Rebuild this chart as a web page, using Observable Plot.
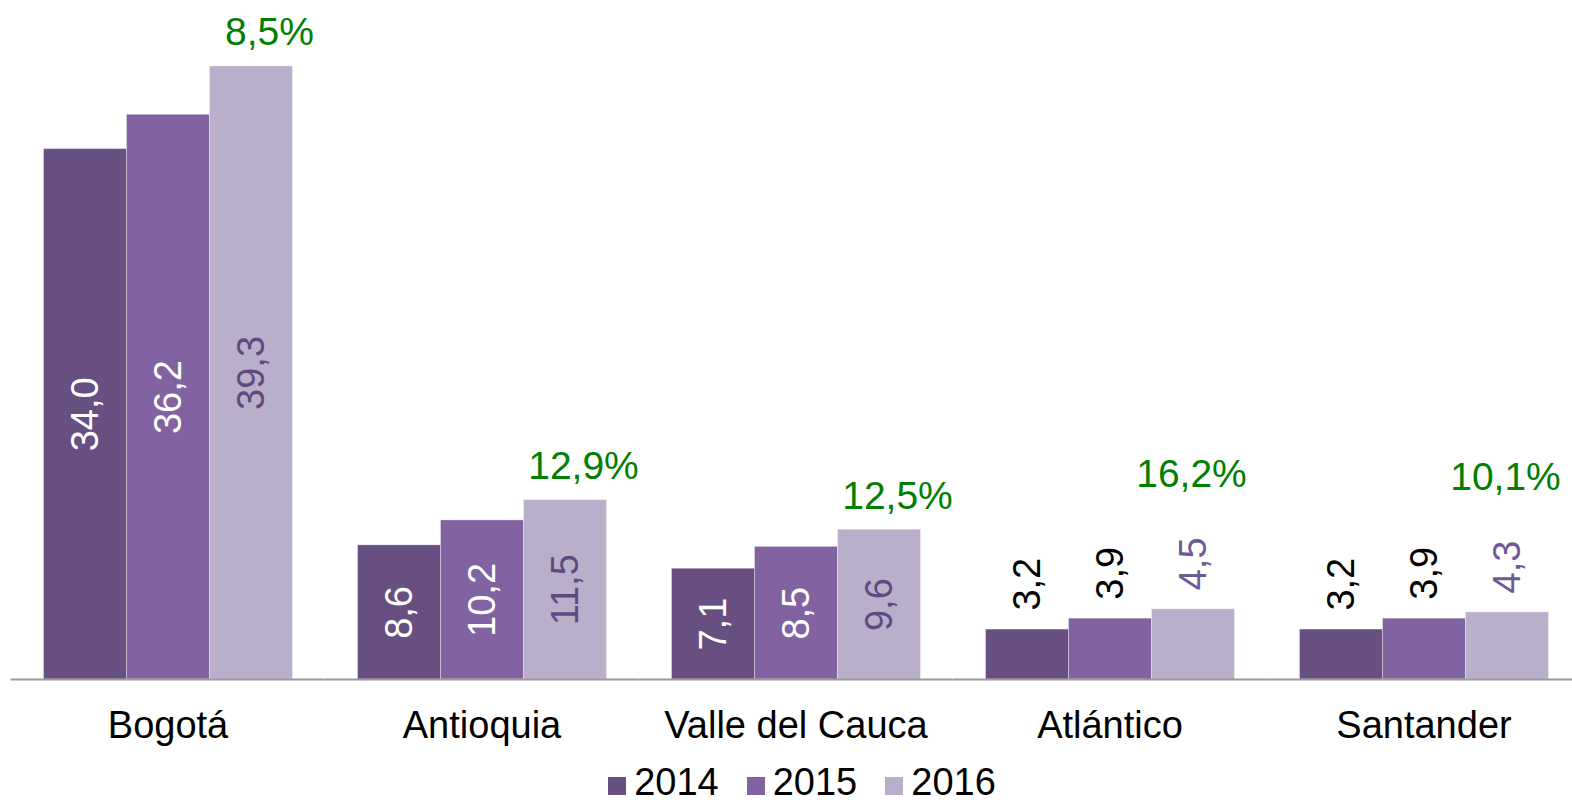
<!DOCTYPE html>
<html>
<head>
<meta charset="utf-8">
<script src="https://cdn.jsdelivr.net/npm/d3@7"></script>
<script src="https://cdn.jsdelivr.net/npm/@observablehq/plot@0.6"></script>
<style>
  html, body { margin: 0; padding: 0; background: #fff; }
  body { width: 1572px; height: 805px; overflow: hidden; font-family: "Liberation Sans", Arial, sans-serif; }
  #chart svg { display: block; }
  #legend { display: flex; justify-content: center; align-items: baseline; padding-left: 32px; margin-top: -3px; height: 32px; font-size: 38px; line-height: 32px; color: #000; }
  #legend .item { display: inline-flex; align-items: baseline; margin: 0 14px; }
  #legend .sw { display: inline-block; width: 18px; height: 18px; margin-right: 8px; margin-bottom: 2px; }
</style>
</head>
<body>
<div id="chart"></div>
<div id="legend"></div>
<script>
const categories = ["Bogotá", "Antioquia", "Valle del Cauca", "Atlántico", "Santander"];
const years = ["2014", "2015", "2016"];
const values2014 = [34.0, 8.6, 7.1, 3.2, 3.2];
const values2015 = [36.2, 10.2, 8.5, 3.9, 3.9];
const values2016 = [39.3, 11.5, 9.6, 4.5, 4.3];
const growth2016 = [8.5, 12.9, 12.5, 16.2, 10.1];
const yearColors = ["#674f82", "#8063a0", "#b9afca"];

const seriesByYear = [values2014, values2015, values2016];
const rows = [];
categories.forEach((c, i) => {
  years.forEach((y, j) => rows.push({category: c, year: y, value: seriesByYear[j][i]}));
});
const growthRows = categories.map((c, i) => ({category: c, year: "2016", value: values2016[i], growth: growth2016[i]}));

const fmt = v => v.toFixed(1).replace(".", ",");
const insideThreshold = 5;
const font = "Liberation Sans, Arial, sans-serif";

const plot = Plot.plot({
  width: 1572,
  height: 769,
  marginLeft: 10.5,
  marginRight: -8.5,
  marginTop: 23.8,
  marginBottom: 90,
  style: {fontFamily: font, background: "transparent"},
  fx: {domain: categories, paddingInner: 0.2, paddingOuter: 0.1, axis: null, label: null},
  x: {domain: years, padding: 0, axis: null},
  y: {domain: [0, 42], axis: null},
  color: {domain: years, range: yearColors},
  marks: [
    Plot.barY(rows, {fx: "category", x: "year", y: "value", fill: "year", stroke: "#ffffff", strokeOpacity: 0.35, strokeWidth: 1}),
    Plot.ruleY([0], {stroke: "#9a9a9a", strokeWidth: 2, insetLeft: -31.5, insetRight: -31.5}),
    // value labels inside the bars
    Plot.text(rows.filter(d => d.value >= insideThreshold), {
      fx: "category", x: "year", y: d => d.value / 2, text: d => fmt(d.value),
      rotate: -90, textAnchor: "middle", lineAnchor: "middle", fontSize: 38,
      fill: d => d.year === "2016" ? "#5f4a7f" : "#ffffff"
    }),
    // value labels above short bars
    Plot.text(rows.filter(d => d.value < insideThreshold), {
      fx: "category", x: "year", y: "value", text: d => fmt(d.value),
      rotate: -90, textAnchor: "start", lineAnchor: "middle", fontSize: 38, dy: -19,
      fill: d => d.year === "2016" ? "#6f5a98" : "#000000"
    }),
    // growth labels
    Plot.text(growthRows.filter(d => d.value >= insideThreshold), {
      fx: "category", x: "year", y: "value", text: d => fmt(d.growth) + "%",
      textAnchor: "middle", lineAnchor: "bottom", fontSize: 39, fill: "#008000", dy: -21, dx: 18
    }),
    Plot.text(growthRows.filter(d => d.value < insideThreshold), {
      fx: "category", x: "year", y: "value", text: d => fmt(d.growth) + "%",
      textAnchor: "middle", lineAnchor: "bottom", fontSize: 39, fill: "#008000", dy: -122, dx: -2
    }),
    // category labels
    Plot.text(categories, {
      fx: d => d, text: d => d, frameAnchor: "bottom", lineAnchor: "bottom",
      textAnchor: "middle", dy: 58, fontSize: 38, fill: "#000000"
    })
  ]
});
document.getElementById("chart").appendChild(plot);

const legend = document.getElementById("legend");
years.forEach((y, j) => {
  const item = document.createElement("span");
  item.className = "item";
  const sw = document.createElement("span");
  sw.className = "sw";
  sw.style.background = yearColors[j];
  const label = document.createElement("span");
  label.textContent = y;
  item.appendChild(sw);
  item.appendChild(label);
  legend.appendChild(item);
});
</script>
</body>
</html>
